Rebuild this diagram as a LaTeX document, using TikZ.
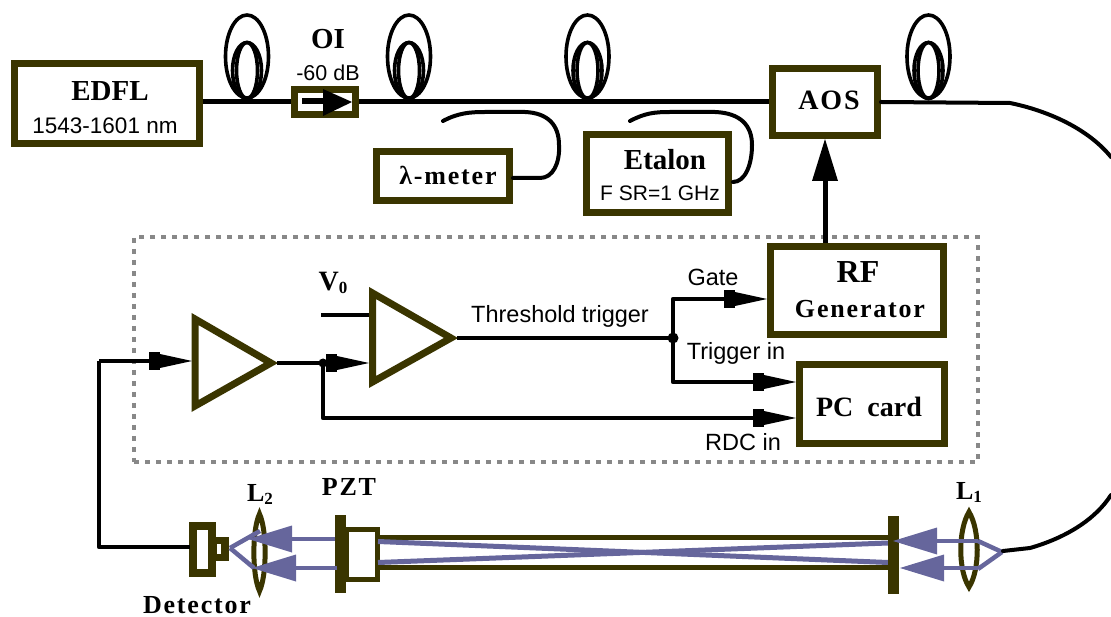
\documentclass[tikz,border=0pt]{standalone}
\usepackage{fontspec}
\setmainfont{Liberation Serif}
\newfontfamily\lsans{Liberation Sans}
\newfontfamily\bsp[LetterSpace=7]{Liberation Serif}
\usetikzlibrary{arrows.meta}
\definecolor{olive}{HTML}{3A3500}
\definecolor{beam}{HTML}{66669C}
\definecolor{dotg}{HTML}{888888}
\tikzset{
  x=1pt,y=-1pt,
  wire/.style={line width=4.4pt,black,line join=round},
  arw/.style={wire,-{Rectangle[length=11pt,width=18pt,sep=0pt,line width=0pt]Triangle[length=32pt,width=14pt,line width=0pt]}},
  fib/.style={line width=4pt,black,line cap=round},
  coil/.style={line width=3.6pt,black},
  boxx/.style={draw=olive,line width=7pt,fill=white,inner sep=0pt,outer sep=3.5pt,rectangle,anchor=north west},
  amp/.style={draw=olive,line width=7pt,fill=white,line join=miter},
  solidolive/.style={fill=olive,draw=none},
  lens/.style={draw=olive,line width=5pt,fill=none},
  rail/.style={draw=olive,line width=5pt},
  beamline/.style={draw=beam,line width=4.5pt},
  beamarrow/.style={beamline,-{Triangle[length=44pt,width=27pt,line width=0pt]}},
  thinbeam/.style={draw=beam,line width=5pt},
  b/.style={font=\bfseries\fontsize{29}{30}\selectfont,inner sep=0pt},
  bs/.style={font=\bsp\bfseries\fontsize{26}{28}\selectfont,inner sep=0pt},
  sf/.style={font=\lsans\fontsize{23.5}{24}\selectfont,inner sep=0pt},
}
\begin{document}
\begin{tikzpicture}
\useasboundingbox (0,0) rectangle (1111,617);
% dotted box
\node[draw=dotg,line width=4.5pt,dash pattern=on 5pt off 6pt,minimum width=844pt,minimum height=225pt,anchor=north west,inner sep=0pt,outer sep=0pt] (frame) at (134,237) {};
% coordinates
\coordinate (c1) at (247,100);
\coordinate (c2) at (409,100);
\coordinate (c3) at (587.5,100);
\coordinate (c4) at (928.5,100);
% coils
\foreach \c in {c1,c2,c3,c4}{
  \draw[coil] (\c)++(0,-43.5) ellipse[x radius=21.5,y radius=41.5];
  \draw[coil] (\c)++(0,-29.5) ellipse[x radius=10.5,y radius=28];
  \draw[coil] (\c)++(0,-29.5) ellipse[x radius=14.5,y radius=28];
}
% boxes
\node[boxx,minimum width=185pt,minimum height=80pt] (edfl) at (10.5,60) {};
\node[boxx,minimum width=61pt,minimum height=25pt] (oi) at (291,86) {};
\node[boxx,minimum width=133pt,minimum height=49pt] (lam) at (373,148) {};
\node[boxx,minimum width=142pt,minimum height=78pt] (eta) at (583,131) {};
\node[boxx,minimum width=105pt,minimum height=67pt] (aos) at (769,65) {};
\node[boxx,minimum width=173pt,minimum height=88pt] (rf) at (767,243) {};
\node[boxx,minimum width=145pt,minimum height=79pt] (pc) at (796,361) {};
% main fibre
\draw[wire] (edfl.east |- 0,101.5) -- (oi.west |- 0,101.5);
\draw[wire] (oi.east |- 0,101.5) -- (aos.west |- 0,101.5);
\coordinate (fr1) at (1111,157);
\draw[fib] (aos.east |- 0,102) -- (1010,103) .. controls (1040,109) and (1085,125) .. (fr1);
% isolator
\fill[white] (298,94) rectangle (352,108);
\fill[black] (302,98.5) rectangle (326,104.5);
\fill (323,89) -- (323,116) -- (352,102) -- cycle;
% side fibres
\coordinate (l1) at (443,121);
\draw[fib] (l1) .. controls (458,113) and (470,112) .. (485,112) -- (525,112) .. controls (548,113) and (559,125) .. (559,145) .. controls (560,163) and (553,178) .. (540,178) -- (lam.east |- 0,178);
\coordinate (e1) at (630,121);
\draw[fib] (e1) .. controls (645,113) and (655,112) .. (670,112) -- (715,112) .. controls (740,113) and (752,125) .. (752,145) .. controls (752,165) and (745,182) .. (733,182);
% RF to AOS
\draw[line width=5pt,-{Triangle[length=42pt,width=26pt,line width=0pt]}] (rf.north -| 825,0) -- (aos.south -| 825,0);
% amps
\coordinate (a1) at (195,319);
\coordinate (a1b) at (195,406);
\coordinate (a1t) at (271,363);
\draw[amp] (a1) -- (a1b) -- (a1t) -- cycle;
\coordinate (a2) at (372.5,293);
\coordinate (a2b) at (372.5,382);
\coordinate (a2t) at (451,338);
\draw[amp] (a2) -- (a2b) -- (a2t) -- cycle;
% electronics
\coordinate (jn1) at (323,363);
\coordinate (jn2) at (673,338);
\coordinate (v0) at (321,315);
\draw[wire] (v0) -- (369,315);
\draw[wire] (277,363) -- (jn1);
\draw[arw] (jn1) -- (369,363);
\draw[arw] (jn1) -- (323,418) -- (pc.west |- 0,418);
\draw[wire] (457,338) -- (jn2);
\draw[arw] (jn2) -- (673,299) -- (rf.west |- 0,299);
\draw[arw] (jn2) -- (673,382) -- (pc.west |- 0,382);
\fill (jn2) circle[radius=5.5];
\fill (jn1) circle[radius=4.5];
% detector
\draw[olive,line width=8pt,fill=white] (193,526) rectangle (212,573);
\fill[olive] (216,537) rectangle (229,561);
\fill[white] (217,544) rectangle (221,554);
\draw[arw] (99,361) -- (192,361);
\draw[wire] (190,547) -- (99,547) -- (99,361);
% PZT and cavity
\coordinate (pz) at (346,539);
\draw[olive,line width=5.5pt,fill=white] (346,529.5) rectangle (377.5,579.5);
\draw[rail] (378,537.5) -- (888,537.5);
\draw[rail] (378,567.5) -- (888,567.5);
\draw[thinbeam] (378,541.5) -- (888,562.5);
\draw[thinbeam] (378,562.5) -- (888,543);
\fill[solidolive] (335,515) rectangle (346,593);
\fill[solidolive] (888,516) rectangle (899,594);
% L2 lens and beam
\draw[lens] (259.5,514) .. controls (252,530) and (252,575) .. (259.5,591) .. controls (267,575) and (267,530) .. (259.5,514) -- cycle;
\draw[beamline] (230,548) -- (260,531);
\draw[beamline] (230,548) -- (254,568);
\draw[beamarrow] (335,539) -- (248,539);
\draw[beamarrow] (337,568) -- (252,568);
% L1 lens and beam
\draw[lens] (969,512) .. controls (958,530) and (958,570) .. (969,587) .. controls (980,570) and (980,530) .. (969,512) -- cycle;
\draw[beamline] (1002,552) -- (978,541);
\draw[beamline] (1002,552) -- (978,569);
\draw[beamarrow,line width=4pt] (978,541) -- (893,541);
\draw[beamarrow,line width=4pt] (978,568) -- (900,568);
\coordinate (fr2) at (1111,495);
\draw[fib] (1003,551) -- (1030,548) .. controls (1065,538) and (1095,520) .. (fr2);
% labels
\node[b] (tedfl) at (110,91) {EDFL};
\node[sf,font=\lsans\fontsize{22.5}{24}\selectfont] (trange) at (105,126) {1543-1601 nm};
\node[b] (toi) at (328,39) {OI};
\node[sf,font=\lsans\fontsize{21.5}{24}\selectfont] (tdb) at (328,73) {-60 dB};
\node[bs] (tlam) at (448,175) {λ-meter};
\node[b] (teta) at (665,160) {Etalon};
\node[sf,font=\lsans\fontsize{21}{24}\selectfont] (tfsr) at (660,193) {F SR=1 GHz};
\node[bs,font=\bsp\bfseries\fontsize{28}{28}\selectfont] (taos) at (829,100) {AOS};
\node[b,font=\bfseries\fontsize{32}{32}\selectfont] (trf) at (858,272) {RF};
\node[bs] (tgen) at (860,309) {Generator};
\node[b,font=\bfseries\fontsize{28}{30}\selectfont] (tpc) at (869,407) {PC\ \ card};
\node[bs,font=\bsp\bfseries\fontsize{28}{28}\selectfont] (tv) at (333,283) {V\raisebox{-3pt}{\fontsize{17}{17}\selectfont 0}};
\node[sf] (tth) at (560,316) {Threshold trigger};
\node[sf] (tgate) at (713,277) {Gate};
\node[sf] (ttrig) at (736,353) {Trigger in};
\node[sf] (trdc) at (743,442) {RDC in};
\node[bs] (tpzt) at (349,487) {PZT};
\node[bs] (tl2) at (260,494) {L\raisebox{-3pt}{\fontsize{17}{17}\selectfont 2}};
\node[bs] (tl1) at (969,492) {L\raisebox{-3pt}{\fontsize{17}{17}\selectfont 1}};
\node[bs] (tdet) at (197,605) {Detector};
\end{tikzpicture}
\end{document}
